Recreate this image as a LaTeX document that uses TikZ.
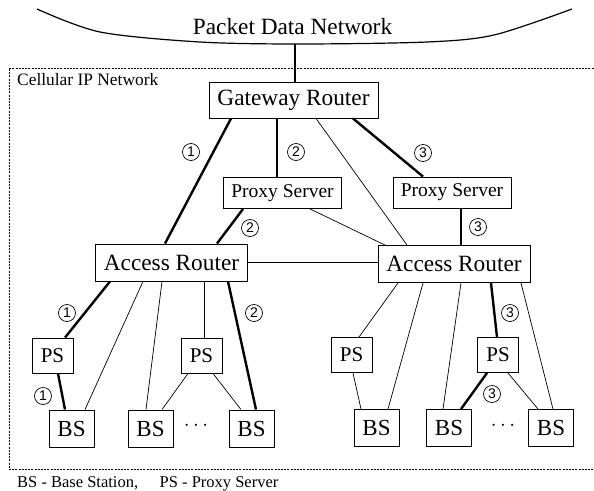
\documentclass[tikz,border=0pt]{standalone}
\usepackage{fontspec}
\setmainfont{Liberation Serif}
\setsansfont{Liberation Sans}

\begin{document}
\begin{tikzpicture}[x=1pt, y=-1pt,
		box/.style={draw, line width=0.9pt, inner sep=0pt, minimum height=37pt},
		router/.style={box, minimum width=152pt, font=\fontsize{23.3}{26}\selectfont},
		proxy/.style={box, minimum width=118pt, minimum height=31pt, font=\fontsize{19.5}{22}\selectfont},
		ps/.style={box, minimum width=41pt, minimum height=35pt, font=\fontsize{21}{24}\selectfont},
		bs/.style={box, minimum width=45pt, minimum height=37pt, font=\fontsize{23}{26}\selectfont},
		link/.style={line width=0.7pt},
		route/.style={line width=2.4pt},
		num/.style={circle, draw, line width=0.7pt, inner sep=0pt, minimum size=17pt, font=\fontsize{14}{14}\sffamily}]
		\useasboundingbox (0,0) rectangle (594,490);

		% packet data network
		\draw[line width=1.2pt] plot[smooth] coordinates {(37,9) (100,32) (200,42) (300,44) (427,42) (494,35) (572,9)};
		\node[anchor=base, font=\fontsize{23.3}{26}\selectfont] (pdn) at (292.5,34) {Packet Data Network};
		\coordinate (cloud) at (295,43.5);

		% cellular ip network
		\draw[line width=0.6pt, dash pattern=on 2pt off 1.2pt] (600,68) -| (9,469) -- (600,469);
		\node[anchor=base west, inner sep=0pt, font=\fontsize{17.4}{20}\selectfont] (cip) at (17,85) {Cellular IP Network};
		\node[anchor=base west, inner sep=0pt, font=\fontsize{16.5}{20}\selectfont] (key) at (17,487) {BS - Base Station,\hspace{1.3em}PS - Proxy Server};

		% routers and servers
		\node[router, minimum width=169pt, minimum height=36pt] (gw) at (293.5,100) {Gateway Router};
		\node[proxy] (psA) at (282.5,193) {Proxy Server};
		\node[proxy] (psB) at (452,192.5) {Proxy Server};
		\node[router] (arA) at (171.5,262.5) {Access Router};
		\node[router] (arB) at (454,264) {Access Router};

		\node[ps] (ps1) at (52.5,355.5) {PS};
		\node[ps] (ps2) at (201.5,355.5) {PS};
		\node[ps] (ps3) at (351.5,355) {PS};
		\node[ps] (ps4) at (498,355) {PS};

		\node[bs] (bs1) at (71.5,428.5) {BS};
		\node[bs] (bs2) at (150.5,428.5) {BS};
		\node[bs] (bs3) at (251.5,428.5) {BS};
		\node[bs] (bs4) at (376.5,428) {BS};
		\node[bs] (bs5) at (449,428) {BS};
		\node[bs] (bs6) at (551,428) {BS};
		\node[font=\fontsize{20}{20}\selectfont] (dotsA) at (196,426) {$\cdots$};
		\node[font=\fontsize{20}{20}\selectfont] (dotsB) at (503,426) {$\cdots$};

		% thin links
		\draw[line width=1.1pt] (cloud) -- ([xshift=1.5pt]gw.north);
		\draw[link] ([xshift=22.5pt]gw.south) -- ([xshift=-47pt]arB.north);
		\draw[link] ([xshift=27.5pt]psA.south) -- ([xshift=-69pt]arB.north);
		\draw[link] (arA.east) -- (arA.east -| arB.west);
		\draw[link] ([xshift=-28.5pt]arA.south) -- ([xshift=13.5pt]bs1.north);
		\draw[link] ([xshift=-9.5pt]arA.south) -- ([xshift=-4.5pt]bs2.north);
		\draw[link] ([xshift=2.5pt]ps2.north) -- ([xshift=2.5pt]ps2.north |- arA.south);
		\draw[link] ([xshift=-13.5pt]ps2.south) -- ([xshift=11.5pt]bs2.north);
		\draw[link] ([xshift=11.5pt]ps2.south) -- ([xshift=-10.5pt]bs3.north);
		\draw[link] ([xshift=-56pt]arB.south) -- ([xshift=7.5pt]ps3.north);
		\draw[link] ([xshift=-31pt]arB.south) -- ([xshift=11.5pt]bs4.north);
		\draw[link] ([xshift=7pt]arB.south) -- ([xshift=-6pt]bs5.north);
		\draw[link] ([xshift=67pt]arB.south) -- ([xshift=2pt]bs6.north);
		\draw[link] ([xshift=1.5pt]ps3.south) -- ([xshift=-15.5pt]bs4.north);
		\draw[link] ([xshift=10pt]ps4.south) -- ([xshift=-13pt]bs6.north);

		% thick links (routes)
		\draw[route] ([xshift=-62.5pt]gw.south) -- ([xshift=-6.5pt]arA.north);
		\draw[route] ([xshift=-16.5pt]gw.south) -- ([xshift=-5.5pt]psA.north);
		\draw[route] ([xshift=59.5pt]gw.south) -- ([xshift=-29pt]psB.north);
		\draw[route] ([xshift=-39.5pt]psA.south) -- ([xshift=45.5pt]arA.north);
		\draw[route] ([xshift=9pt]psB.south) -- ([xshift=7pt]arB.north);
		\draw[route] ([xshift=-61.5pt]arA.south) -- ([xshift=12.5pt]ps1.north);
		\draw[route] ([xshift=5.5pt]ps1.south) -- ([xshift=-6.5pt]bs1.north);
		\draw[route] ([xshift=56.5pt]arA.south) -- ([xshift=4.5pt]bs3.north);
		\draw[route] ([xshift=37pt]arB.south) -- ([xshift=-1pt]ps4.north);
		\draw[route] ([xshift=-11pt]ps4.south) -- ([xshift=12pt]bs5.north);

		% route numbers
		\node[num] (r1a) at (191,152) {1};
		\node[num] (r1b) at (67,313) {1};
		\node[num] (r1c) at (43,396) {1};
		\node[num] (r2a) at (296,152) {2};
		\node[num] (r2b) at (250,228) {2};
		\node[num] (r2c) at (254,313) {2};
		\node[num] (r3a) at (423,153) {3};
		\node[num] (r3b) at (478,227) {3};
		\node[num] (r3c) at (510,313) {3};
		\node[num] (r3d) at (492,394) {3};
	\end{tikzpicture}
\end{document}
